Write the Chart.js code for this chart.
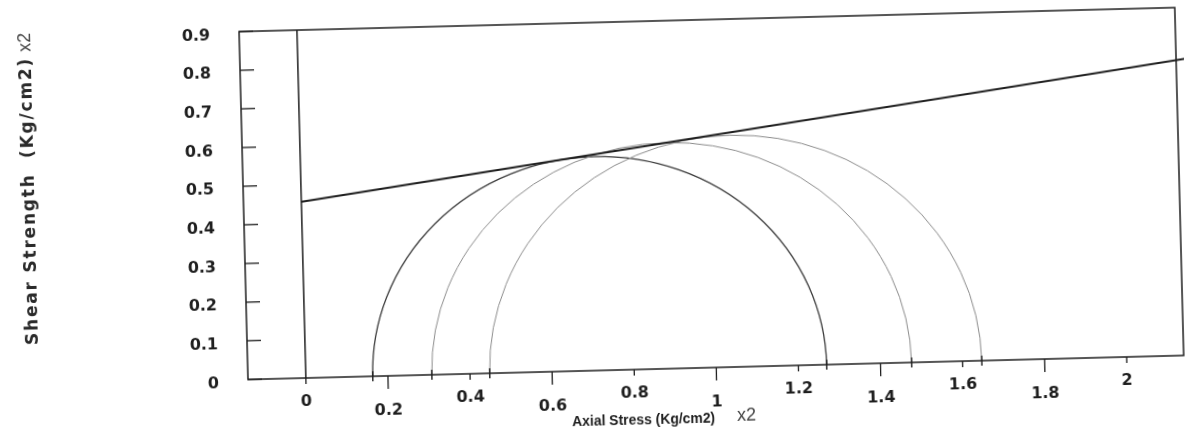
<!DOCTYPE html>
<html>
<head>
<meta charset="utf-8">
<title>Mohr circles</title>
<script src="https://cdn.jsdelivr.net/npm/chart.js@4"></script>
<style>
  html, body { margin: 0; padding: 0; background: #fff; overflow: hidden; }
  /* the scan is slightly tilted, so the whole figure is turned a bit;
     the canvas is a little taller so the turned x title is not cut */
  #wrap { width: 1192px; height: 452px; transform: rotate(-1.47deg); transform-origin: 306px 379px; }
</style>
</head>
<body>
<div id="wrap"><canvas id="chart"></canvas></div>
<script>
// Mohr circles: minor and major principal stress (x2 Kg/cm2)
const sigma3 = [0.163, 0.307, 0.448];
const sigma1 = [1.269, 1.476, 1.647];

// failure envelope (runs out past the right frame)
const envelopeX = [0, 2.173];
const envelopeY = [0.456, 0.769];

// axes
const xTicks = [0, 0.2, 0.4, 0.6, 0.8, 1, 1.2, 1.4, 1.6, 1.8, 2];
const xTickLabels = ["0", "0.2", "0.4", "0.6", "0.8", "1", "1.2", "1.4", "1.6", "1.8", "2"];
const yTicks = [0, 0.1, 0.2, 0.3, 0.4, 0.5, 0.6, 0.7, 0.8, 0.9];
const yTickLabels = ["0", "0.1", "0.2", "0.3", "0.4", "0.5", "0.6", "0.7", "0.8", "0.9"];
const xRange = [-0.141, 2.139];
const yRange = [0, 0.9];

const xTitle = "Axial Stress (Kg/cm2)";
const yTitle = "Shear Strength  (Kg/cm2)";
const factorText = "x2";

// styles
const ink = "#1e1e1e";
const circleColors = ["#3c3c3c", "#8c8c8c", "#8c8c8c"];
const circleWidths = [1.3, 1, 1];
const font = "'DejaVu Sans', sans-serif";

// Frame, small tick marks, circles and axis titles
const mohrPlugin = {
  id: "mohr",
  beforeDatasetsDraw(chart) {
    const { ctx, scales: { x, y } } = chart;
    ctx.save();
    sigma3.forEach((s3, i) => {
      const s1 = sigma1[i];
      const c = (s1 + s3) / 2;
      const r = (s1 - s3) / 2;
      const cx = x.getPixelForValue(c);
      const cy = y.getPixelForValue(0);
      const rx = x.getPixelForValue(s1) - cx;
      const ry = cy - y.getPixelForValue(r);
      ctx.beginPath();
      ctx.ellipse(cx, cy, rx, ry, 0, Math.PI, 2 * Math.PI);
      ctx.strokeStyle = circleColors[i];
      ctx.lineWidth = circleWidths[i];
      ctx.stroke();
    });
    ctx.restore();
  },
  afterDraw(chart) {
    const { ctx, chartArea: a, scales: { x, y } } = chart;
    ctx.save();
    ctx.strokeStyle = ink;
    ctx.lineWidth = 1.5;
    ctx.strokeRect(a.left, a.top, a.right - a.left, a.bottom - a.top);

    // y ticks point into the plot
    ctx.lineWidth = 1.3;
    yTicks.forEach((v) => {
      const py = y.getPixelForValue(v);
      ctx.beginPath();
      ctx.moveTo(a.left, py);
      ctx.lineTo(a.left + 14, py);
      ctx.stroke();
    });

    // x ticks point outwards, long and short in turn
    xTicks.forEach((v, i) => {
      const px = x.getPixelForValue(v);
      ctx.beginPath();
      ctx.moveTo(px, a.bottom);
      ctx.lineTo(px, a.bottom + (i % 2 ? 13 : 6));
      ctx.stroke();
    });

    // marks where the circles meet the axis
    ctx.lineWidth = 1.4;
    sigma3.concat(sigma1).forEach((v) => {
      const px = x.getPixelForValue(v);
      ctx.beginPath();
      ctx.moveTo(px, a.bottom - 5);
      ctx.lineTo(px, a.bottom + 5);
      ctx.stroke();
    });

    // x title: bold, squeezed to about 143px like the print
    ctx.fillStyle = ink;
    ctx.textBaseline = "middle";
    ctx.textAlign = "left";
    ctx.font = "bold 15.5px 'Liberation Sans', sans-serif";
    const squeeze = Math.min(1, 143 / ctx.measureText(xTitle).width);
    ctx.save();
    ctx.translate(571, a.bottom + 51);
    ctx.scale(squeeze, 1);
    ctx.fillText(xTitle, 0, 0);
    ctx.restore();
    ctx.font = "18px 'Liberation Sans', sans-serif";
    ctx.fillStyle = "#444";
    ctx.fillText(factorText, 571 + 143 + 22, a.bottom + 49);

    // y title, rotated and letter spaced
    ctx.translate(35, a.bottom - 40);
    ctx.rotate(-Math.PI / 2);
    ctx.fillStyle = "#2a2a2a";
    ctx.font = "bold 17px " + font;
    ctx.letterSpacing = "1.8px";
    ctx.fillText(yTitle, 0, 0);
    const yw = ctx.measureText(yTitle).width;
    ctx.letterSpacing = "0px";
    ctx.font = "18px 'Liberation Sans', sans-serif";
    ctx.fillStyle = "#444";
    ctx.fillText(factorText, yw + 5, -1);
    ctx.restore();
  },
};

const ctx = document.getElementById("chart").getContext("2d");
new Chart(ctx, {
  type: "scatter",
  data: {
    datasets: [
      {
        // line at x = 0 over the full height
        data: [{ x: 0, y: yRange[0] }, { x: 0, y: yRange[1] }],
        showLine: true,
        borderColor: ink,
        borderWidth: 1.5,
        pointRadius: 0,
      },
      {
        data: envelopeX.map((v, i) => ({ x: v, y: envelopeY[i] })),
        showLine: true,
        borderColor: ink,
        borderWidth: 2,
        pointRadius: 0,
        clip: false,
      },
    ],
  },
  options: {
    responsive: true,
    maintainAspectRatio: false,
    animation: false,
    layout: { padding: { top: 30, right: 8, left: 0, bottom: 0 } },
    plugins: {
      legend: { display: false },
      tooltip: { enabled: false },
    },
    scales: {
      x: {
        type: "linear",
        min: xRange[0],
        max: xRange[1],
        afterBuildTicks: (scale) => {
          scale.ticks = xTicks.map((v) => ({ value: v }));
        },
        afterFit: (scale) => {
          scale.height = 74;
        },
        grid: { display: false },
        border: { display: false },
        ticks: {
          autoSkip: false,
          maxRotation: 0,
          padding: 11,
          color: ink,
          font: { family: font, size: 16, weight: "bold", lineHeight: 0.65 },
          // every second label sits lower
          callback: (value, index) => (index % 2 ? ["", xTickLabels[index]] : xTickLabels[index]),
        },
      },
      y: {
        type: "linear",
        min: yRange[0],
        max: yRange[1],
        afterBuildTicks: (scale) => {
          scale.ticks = yTicks.map((v) => ({ value: v }));
        },
        afterFit: (scale) => {
          scale.width = 248;
        },
        grid: { display: false },
        border: { display: false },
        ticks: {
          autoSkip: false,
          padding: 21,
          color: ink,
          font: { family: font, size: 16, weight: "bold", lineHeight: 0.45 },
          // labels sit a little under their tick, as in the print
          callback: (value, index) => ["", yTickLabels[index]],
        },
      },
    },
  },
  plugins: [mohrPlugin],
});
</script>
</body>
</html>
